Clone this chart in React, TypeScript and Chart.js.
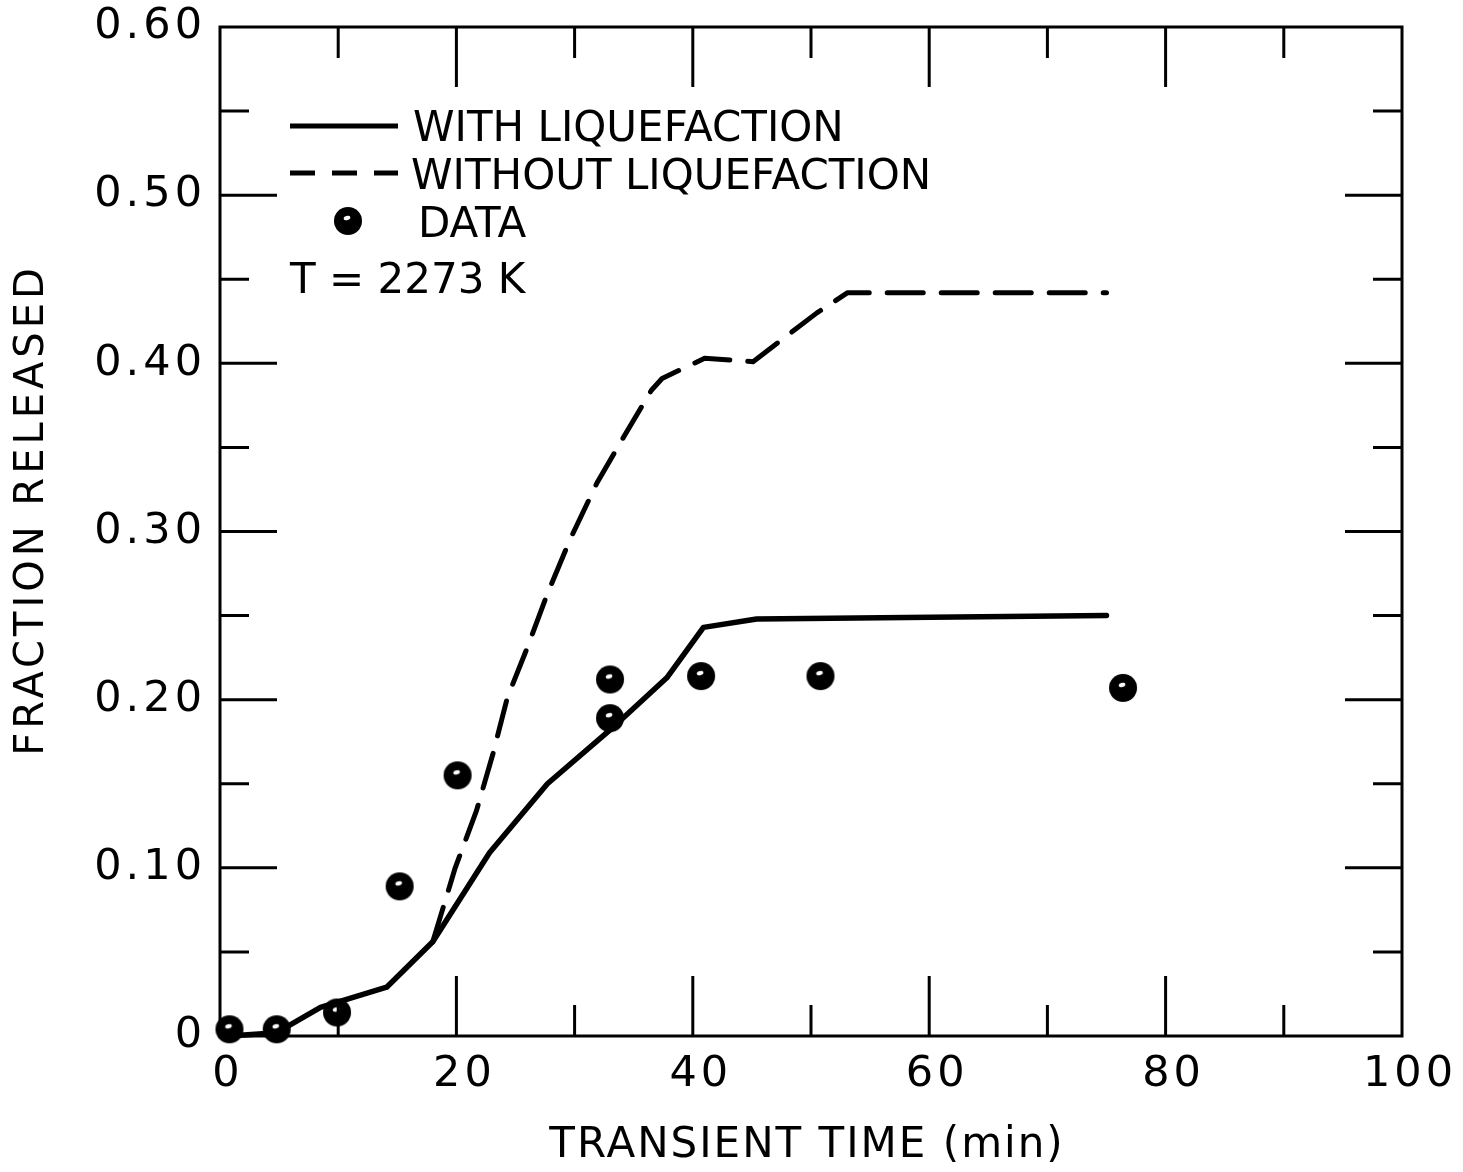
import React, { useEffect, useRef } from "react";
import { Chart, registerables } from "chart.js";

Chart.register(...registerables);

const W = 1463;
const H = 1172;

// ---- axis ticks ----
const xTickValues = [0, 20, 40, 60, 80, 100];
const xTickLabels = ["0", "20", "40", "60", "80", "100"];
const xMinorTicks = [10, 30, 50, 70, 90];
const yTickValues = [0, 0.1, 0.2, 0.3, 0.4, 0.5, 0.6];
const yTickLabels = ["0", "0.10", "0.20", "0.30", "0.40", "0.50", "0.60"];
const yMinorTicks = [0.05, 0.15, 0.25, 0.35, 0.45, 0.55];

// ---- series: with liquefaction (solid) ----
const withLiqTime = [0.8, 4.8, 8.5, 14.1, 18.0, 22.8, 27.7, 33.0, 37.8, 40.9, 45.4, 75.0];
const withLiqFraction = [0.0, 0.002, 0.017, 0.029, 0.056, 0.109, 0.15, 0.182, 0.213, 0.243, 0.248, 0.25];

// ---- series: without liquefaction (dashed) ----
const withoutLiqTime = [18.0, 19.9, 21.7, 23.1, 24.3, 26.0, 27.7, 29.6, 31.9, 34.3, 36.5, 37.4, 41.0, 45.1, 50.5, 53.1, 75.0];
const withoutLiqFraction = [0.056, 0.1, 0.134, 0.168, 0.201, 0.231, 0.263, 0.295, 0.329, 0.358, 0.384, 0.391, 0.403, 0.401, 0.43, 0.442, 0.442];

// ---- measured data ----
const dataTime = [0.8, 4.8, 9.9, 15.2, 20.1, 33.0, 33.0, 40.7, 50.8, 76.4];
const dataFraction = [0.004, 0.004, 0.014, 0.089, 0.155, 0.212, 0.189, 0.214, 0.214, 0.207];

const seriesLabels = ["WITH LIQUEFACTION", "WITHOUT LIQUEFACTION", "DATA"];
const noteText = "T = 2273 K";
const xTitle = "TRANSIENT TIME (min)";
const yTitle = "FRACTION RELEASED";

const FONT = "'DejaVu Sans', 'Noto Sans', sans-serif";

function makeDot(r: number): HTMLCanvasElement {
  const s = Math.ceil(r * 2 + 2);
  const c = document.createElement("canvas");
  c.width = s;
  c.height = s;
  const g = c.getContext("2d")!;
  g.fillStyle = "#000";
  g.beginPath();
  g.arc(s / 2, s / 2, r, 0, Math.PI * 2);
  g.fill();
  g.fillStyle = "#fff";
  g.beginPath();
  g.ellipse(s / 2 - 1, s / 2 - 3, 3.4, 2.1, -0.3, 0, Math.PI * 2);
  g.fill();
  return c;
}

const framePlugin = {
  id: "frameTicksLegend",
  beforeDraw(chart: any) {
    chart.ctx.letterSpacing = "4px";
  },
  beforeDatasetsDraw(chart: any) {
    chart.ctx.letterSpacing = "0px";
  },
  afterDraw(chart: any) {
    const { ctx, chartArea: a, scales } = chart;
    const xs = scales.x;
    const ys = scales.y;
    ctx.save();
    ctx.letterSpacing = "0px";
    ctx.strokeStyle = "#000";
    ctx.fillStyle = "#000";
    ctx.lineWidth = 3;
    ctx.lineCap = "butt";
    ctx.setLineDash([]);
    ctx.strokeRect(a.left, a.top, a.right - a.left, a.bottom - a.top);

    const MAJ = 60;
    const MIN = 31;
    const xTick = (v: number, len: number) => {
      const px = xs.getPixelForValue(v);
      ctx.beginPath();
      ctx.moveTo(px, a.bottom);
      ctx.lineTo(px, a.bottom - len);
      ctx.moveTo(px, a.top);
      ctx.lineTo(px, a.top + len);
      ctx.stroke();
    };
    const yTick = (v: number, len: number) => {
      const py = ys.getPixelForValue(v);
      ctx.beginPath();
      ctx.moveTo(a.left, py);
      ctx.lineTo(a.left + len, py);
      ctx.moveTo(a.right, py);
      ctx.lineTo(a.right - len, py);
      ctx.stroke();
    };
    xTickValues.slice(1, -1).forEach((v) => xTick(v, MAJ));
    xMinorTicks.forEach((v) => xTick(v, MIN));
    yTickValues.slice(1, -1).forEach((v) => yTick(v, MAJ - 3));
    yMinorTicks.forEach((v) => yTick(v, MIN - 2));

    // legend
    const ds = chart.data.datasets;
    ctx.font = `42px ${FONT}`;
    ctx.textAlign = "left";
    ctx.textBaseline = "alphabetic";

    ctx.lineWidth = 5;
    ctx.setLineDash([]);
    ctx.beginPath();
    ctx.moveTo(290, 126);
    ctx.lineTo(398, 126);
    ctx.stroke();
    ctx.fillText(ds[1].label, 413, 141);

    ctx.setLineDash([25, 17]);
    ctx.beginPath();
    ctx.moveTo(290, 173);
    ctx.lineTo(398, 173);
    ctx.stroke();
    ctx.setLineDash([]);
    ctx.fillText(ds[2].label, 411, 189);

    const dot = ds[0].pointStyle as HTMLCanvasElement;
    ctx.drawImage(dot, 348 - dot.width / 2, 221 - dot.height / 2);
    ctx.fillText(ds[0].label, 418, 237);

    ctx.fillText(noteText, 290, 293);

    // axis titles
    ctx.font = `42px ${FONT}`;
    ctx.letterSpacing = "2px";
    ctx.textAlign = "center";
    ctx.fillText(xTitle, 807, 1157);

    ctx.font = `40px ${FONT}`;
    ctx.letterSpacing = "4px";
    ctx.translate(43, 512);
    ctx.rotate(-Math.PI / 2);
    ctx.fillText(yTitle, 2, 0);
    ctx.restore();
  },
};

export default function App() {
  const ref = useRef<HTMLCanvasElement | null>(null);

  useEffect(() => {
    if (!ref.current) return;
    const dot = makeDot(14);
    const chart = new Chart(ref.current, {
      type: "scatter",
      data: {
        datasets: [
          {
            label: seriesLabels[2],
            data: dataTime.map((t, i) => ({ x: t, y: dataFraction[i] })),
            pointStyle: dot as any,
            pointRadius: 14,
            showLine: false,
            clip: false as any,
            order: 0,
          },
          {
            label: seriesLabels[0],
            data: withLiqTime.map((t, i) => ({ x: t, y: withLiqFraction[i] })),
            showLine: true,
            borderColor: "#000",
            borderWidth: 5.5,
            pointRadius: 0,
            borderJoinStyle: "round",
            borderCapStyle: "round",
            tension: 0,
            clip: false as any,
            order: 1,
          },
          {
            label: seriesLabels[1],
            data: withoutLiqTime.map((t, i) => ({ x: t, y: withoutLiqFraction[i] })),
            showLine: true,
            borderColor: "#000",
            borderWidth: 5,
            borderDash: [36, 18],
            borderCapStyle: "round",
            borderJoinStyle: "round",
            pointRadius: 0,
            tension: 0,
            clip: false as any,
            order: 2,
          },
        ],
      },
      options: {
        responsive: false,
        animation: false,
        layout: { padding: { left: 0, right: W - 1402, top: 27, bottom: 0 } },
        plugins: { legend: { display: false }, tooltip: { enabled: false } },
        scales: {
          x: {
            type: "linear",
            min: 0,
            max: 100,
            grid: { display: false, drawTicks: false },
            border: { display: false },
            afterBuildTicks: (s: any) => {
              s.ticks = xTickValues.map((v) => ({ value: v }));
            },
            afterFit: (s: any) => {
              s.height = H - 1036;
              s.paddingLeft = 0;
              s.paddingRight = 0;
            },
            ticks: {
              autoSkip: false,
              maxRotation: 0,
              minRotation: 0,
              padding: 13,
              labelOffset: 8,
              color: "#000",
              font: { family: FONT, size: 43 },
              callback: (_v: any, i: number) => xTickLabels[i],
            },
          },
          y: {
            type: "linear",
            min: 0,
            max: 0.6,
            grid: { display: false, drawTicks: false },
            border: { display: false },
            afterBuildTicks: (s: any) => {
              s.ticks = yTickValues.map((v) => ({ value: v }));
            },
            afterFit: (s: any) => {
              s.width = 220;
              s.paddingTop = 0;
              s.paddingBottom = 0;
            },
            ticks: {
              autoSkip: false,
              padding: 14,
              color: "#000",
              font: { family: FONT, size: 43 },
              callback: (_v: any, i: number) => yTickLabels[i],
            },
          },
        },
      },
      plugins: [framePlugin],
    } as any);
    return () => chart.destroy();
  }, []);

  return (
    <div style={{ position: "absolute", left: 0, top: 0, width: W, height: H, background: "#fff" }}>
      <canvas ref={ref} width={W} height={H} style={{ display: "block" }} />
    </div>
  );
}
